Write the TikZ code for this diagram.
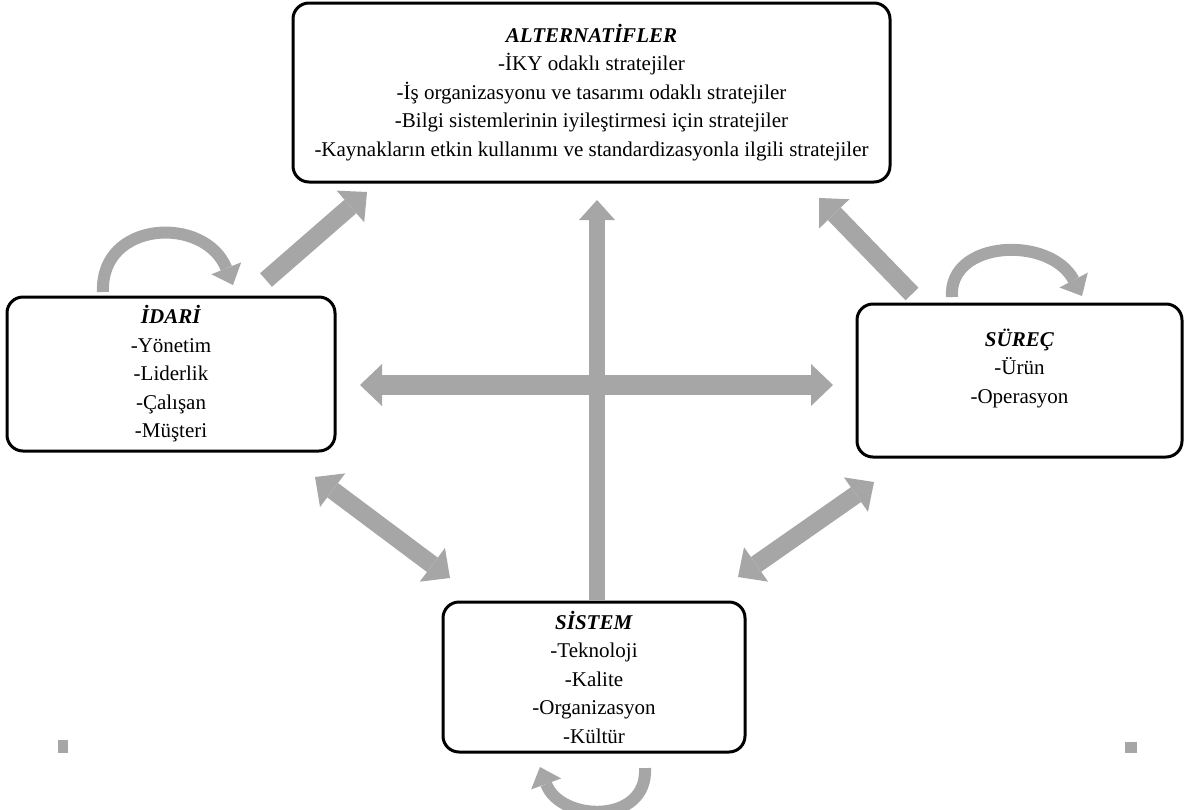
\documentclass[tikz,border=0pt]{standalone}
\usepackage{fontspec}
\setmainfont{Liberation Serif}
\usepackage{tikz}
\usetikzlibrary{arrows.meta}
\definecolor{okgri}{RGB}{166,166,166}
\newcommand{\baslik}[1]{\textbf{\textit{#1}}}
\tikzset{
    kutu/.style={draw=black, line width=3pt, rounded corners=16pt, align=center,
        font=\fontsize{21}{28.5}\selectfont, inner sep=0pt},
    okblok/.style={draw=okgri, line width=18pt,
        -{Triangle[width=42pt, length=22pt, line width=0pt]}},
    okiki/.style={draw=okgri, line width=18pt,
        {Triangle[width=42pt, length=22pt, line width=0pt]}-{Triangle[width=42pt, length=22pt, line width=0pt]}},
    kivrik/.style={draw=okgri, line width=12pt,
        -{Triangle[width=32pt, length=18pt, line width=0pt]}}}

\begin{document}
\begin{tikzpicture}[x=1pt, y=-1pt]
                
                    \useasboundingbox (0,0) rectangle (1185,809);
                    
                    \node[kutu, minimum width=597pt, minimum height=179pt] (alt) at (591.5,92.5) {\baslik{ALTERNATİFLER}\\-İKY odaklı stratejiler\\-İş organizasyonu ve tasarımı odaklı stratejiler\\-Bilgi sistemlerinin iyileştirmesi için stratejiler\\-Kaynakların etkin kullanımı ve standardizasyonla ilgili stratejiler};
                    \node[kutu, minimum width=328pt, minimum height=154pt] (idari) at (171,374) {\baslik{İDARİ}\\-Yönetim\\-Liderlik\\-Çalışan\\-Müşteri};
                    \node[kutu, minimum width=325pt, minimum height=153pt] (surec) at (1019.5,380.5) {\baslik{SÜREÇ}\\-Ürün\\-Operasyon\\ \mbox{}};
                    \node[kutu, minimum width=302pt, minimum height=150pt] (sistem) at (594,677) {\baslik{SİSTEM}\\-Teknoloji\\-Kalite\\-Organizasyon\\-Kültür};
                    
                    \coordinate (h1) at (360,385);
                    \coordinate (h2) at (833,385);
                    \coordinate (v1) at (597,601);
                    \coordinate (v2) at (597,200);
                    \coordinate (d1) at (266,280);
                    \coordinate (d2) at (367,192);
                    \coordinate (d3) at (912,294);
                    \coordinate (d4) at (819,198);
                    \coordinate (d5) at (315,477);
                    \coordinate (d6) at (450,578);
                    \coordinate (d7) at (874,482);
                    \coordinate (d8) at (738,577);
                    \coordinate (c1) at (103,292);
                    \coordinate (c2) at (233,285);
                    \coordinate (c3) at (952,297);
                    \coordinate (c4) at (1082,296);
                    \coordinate (c5) at (645,768);
                    \coordinate (c6) at (540,767);
                    
                    \draw[draw=okgri, line width=16pt, -{Triangle[width=36pt, length=20pt, line width=0pt]}] (v1) -- (v2);
                    \draw[okiki, line width=20pt] (h1) -- (h2);
                    \draw[okblok] (d1) -- (d2);
                    \draw[okblok] (d3) -- (d4);
                    \draw[okiki] (d5) -- (d6);
                    \draw[okiki] (d7) -- (d8);
                    
                    \draw[kivrik] (c1) .. controls (100,220) and (205,215) .. (c2);
                    \draw[kivrik] (c3) .. controls (948,240) and (1050,235) .. (c4);
                    \draw[kivrik] (c5) .. controls (648,825) and (560,822) .. (c6);
                    
                    \fill[okgri] (58,740) rectangle (68,753);
                    \fill[okgri] (1125,742) rectangle (1137,753);
            
                \end{tikzpicture}
\end{document}
